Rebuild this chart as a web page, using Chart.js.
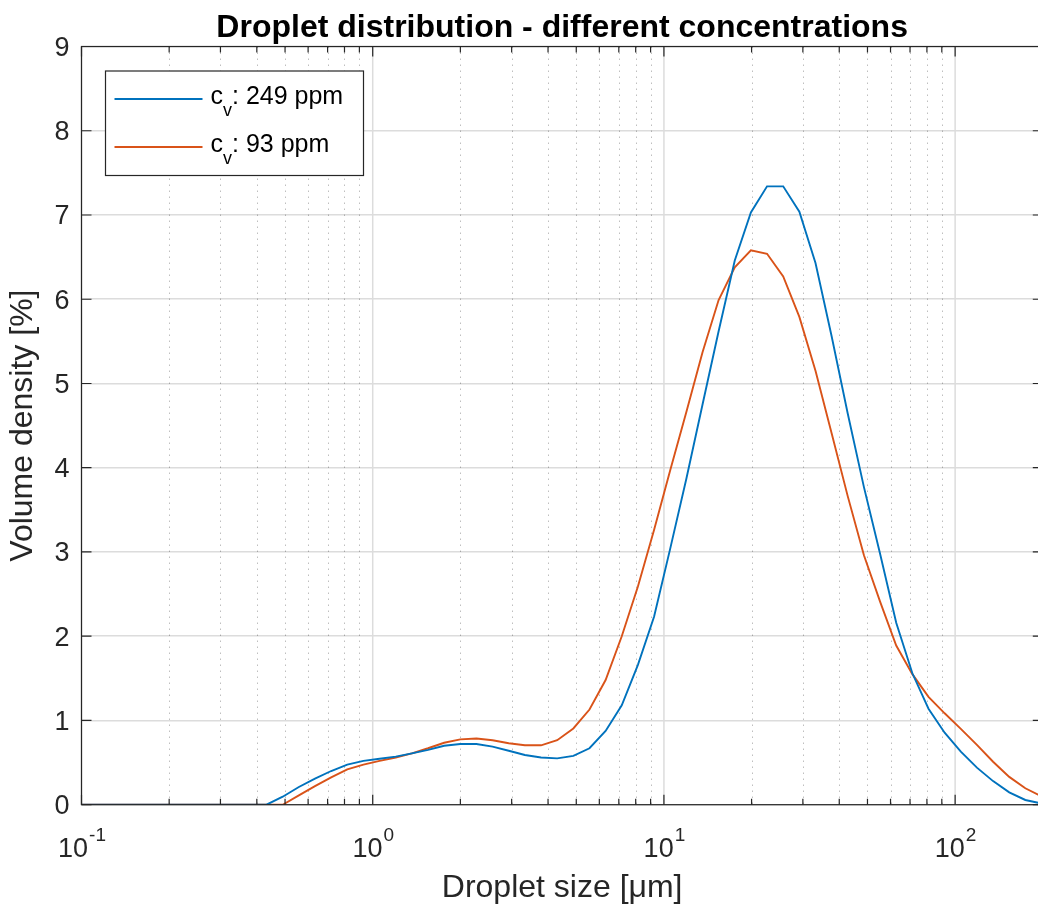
<!DOCTYPE html>
<html>
<head>
<meta charset="utf-8">
<script src="https://cdn.jsdelivr.net/npm/chart.js@4.4.0/dist/chart.umd.min.js"></script>
<style>
  html, body { margin: 0; padding: 0; overflow: hidden; background: #fff; }
  canvas { display: block; }
</style>
</head>
<body>
<canvas id="myChart" width="1048" height="907"></canvas>
<script>
// droplet size classes (um)
const sizes = [
  0.0934, 0.1061, 0.1205, 0.1369, 0.1555, 0.1767, 0.2008, 0.2282, 0.2593, 0.2945,
  0.3346, 0.3802, 0.4319, 0.4909, 0.5577, 0.6335, 0.7199, 0.818, 0.9293, 1.056,
  1.2, 1.363, 1.549, 1.759, 1.999, 2.271, 2.58, 2.932, 3.331, 3.785,
  4.3, 4.886, 5.551, 6.306, 7.165, 8.141, 9.249, 10.51, 11.94, 13.57,
  15.41, 17.51, 19.89, 22.6, 25.68, 29.18, 33.15, 37.66, 42.79, 48.62,
  55.24, 62.76, 71.3, 81.01, 92.04, 104.6, 118.8, 135, 153.4, 174.2,
  198, 224.9
];

// volume density [%]
const cv249 = [
  0, 0, 0, 0, 0, 0, 0, 0, 0, 0,
  0, 0, 0, 0.095, 0.21, 0.31, 0.40, 0.475, 0.52, 0.546,
  0.57, 0.61, 0.65, 0.70, 0.72, 0.72, 0.69, 0.64, 0.59, 0.56,
  0.55, 0.58, 0.67, 0.875, 1.18, 1.66, 2.23, 3.04, 3.87, 4.75,
  5.62, 6.46, 7.03, 7.34, 7.34, 7.04, 6.43, 5.56, 4.64, 3.77,
  2.98, 2.16, 1.56, 1.14, 0.855, 0.63, 0.44, 0.28, 0.147, 0.056,
  0.015, 0
];

const cv93 = [
  0, 0, 0, 0, 0, 0, 0, 0, 0, 0,
  0, 0, 0, 0, 0.11, 0.22, 0.325, 0.42, 0.475, 0.52,
  0.56, 0.61, 0.67, 0.735, 0.775, 0.785, 0.765, 0.73, 0.705, 0.705,
  0.765, 0.905, 1.13, 1.48, 2.0, 2.59, 3.26, 3.97, 4.66, 5.37,
  5.99, 6.38, 6.58, 6.54, 6.27, 5.79, 5.15, 4.41, 3.66, 2.96,
  2.41, 1.89, 1.55, 1.28, 1.085, 0.90, 0.71, 0.51, 0.33, 0.195,
  0.10, 0.04
];

const seriesNames = ['249 ppm', '93 ppm'];
const seriesColors = ['#0072BD', '#D95319'];
const xTickValues = [0.1, 1, 10, 100];
const xTickExps = ['-1', '0', '1', '2'];

const FONT = "'Liberation Sans', Arial, Helvetica, sans-serif";
const AXIS_COLOR = '#262626';

const toPoints = (vals) => sizes.map((s, i) => ({ x: s, y: vals[i] }));

// matlab look: dotted minor grid, inner ticks, box, title, legend
const matlabLook = {
  id: 'matlabLook',
  beforeDatasetsDraw(chart) {
    const { ctx, chartArea: ca, scales: { x } } = chart;
    ctx.save();
    for (let e = -1; e <= 2; e++) {
      for (let m = 2; m <= 9; m++) {
        const v = m * Math.pow(10, e);
        if (v >= x.max) continue;
        const px = Math.round(x.getPixelForValue(v)) + 0.5;
        ctx.beginPath();
        ctx.setLineDash([1.5, 4.5]);
        ctx.strokeStyle = 'rgba(0,0,0,0.25)';
        ctx.lineWidth = 1;
        ctx.moveTo(px, ca.top);
        ctx.lineTo(px, ca.bottom);
        ctx.stroke();
      }
      const vm = Math.pow(10, e);
      const pm = x.getPixelForValue(vm);
      ctx.beginPath();
      ctx.setLineDash([]);
      ctx.strokeStyle = '#dcdcdc';
      ctx.lineWidth = 1.5;
      ctx.moveTo(pm, ca.top);
      ctx.lineTo(pm, ca.bottom);
      ctx.stroke();
    }
    ctx.restore();
  },
  afterDatasetsDraw(chart) {
    const { ctx, chartArea: ca, scales: { x, y } } = chart;
    ctx.save();
    ctx.setLineDash([]);
    ctx.strokeStyle = AXIS_COLOR;
    ctx.lineWidth = 1.2;
    ctx.strokeRect(ca.left, ca.top, ca.right - ca.left, ca.bottom - ca.top);

    // x ticks (inside, bottom and top)
    ctx.beginPath();
    for (let e = -1; e <= 2; e++) {
      for (let m = 1; m <= 9; m++) {
        const v = m * Math.pow(10, e);
        if (v > x.max) continue;
        const px = x.getPixelForValue(v);
        const len = m === 1 ? 10 : 6;
        ctx.moveTo(px, ca.bottom);
        ctx.lineTo(px, ca.bottom - len);
        ctx.moveTo(px, ca.top);
        ctx.lineTo(px, ca.top + len);
      }
    }
    // y ticks (inside, left and right)
    for (let v = y.min; v <= y.max; v++) {
      const py = y.getPixelForValue(v);
      ctx.moveTo(ca.left, py);
      ctx.lineTo(ca.left + 10, py);
      ctx.moveTo(ca.right, py);
      ctx.lineTo(ca.right - 10, py);
    }
    ctx.stroke();

    // x tick labels 10^n
    ctx.fillStyle = AXIS_COLOR;
    ctx.textAlign = 'left';
    ctx.textBaseline = 'alphabetic';
    xTickValues.forEach((v, i) => {
      const px = x.getPixelForValue(v);
      ctx.font = `27px ${FONT}`;
      const w1 = ctx.measureText('10').width;
      ctx.font = `19px ${FONT}`;
      const w2 = ctx.measureText(xTickExps[i]).width;
      const x0 = px - (w1 + w2) / 2;
      ctx.font = `27px ${FONT}`;
      ctx.fillText('10', x0, ca.bottom + 52);
      ctx.font = `19px ${FONT}`;
      ctx.fillText(xTickExps[i], x0 + w1 + 1, ca.bottom + 36.5);
    });

    // title
    ctx.fillStyle = '#000';
    ctx.textAlign = 'center';
    ctx.font = `bold 32px ${FONT}`;
    ctx.fillText('Droplet distribution - different concentrations', (ca.left + ca.right) / 2, 37);

    // legend
    const lx = ca.left + 24, ly = ca.top + 24.5, lw = 258, lh = 104.5;
    ctx.fillStyle = '#fff';
    ctx.fillRect(lx, ly, lw, lh);
    ctx.strokeStyle = AXIS_COLOR;
    ctx.lineWidth = 1.2;
    ctx.strokeRect(lx, ly, lw, lh);
    seriesNames.forEach((name, i) => {
      const yy = ly + 28 + i * 48;
      ctx.beginPath();
      ctx.strokeStyle = seriesColors[i];
      ctx.lineWidth = 1.8;
      ctx.moveTo(lx + 9, yy);
      ctx.lineTo(lx + 97, yy);
      ctx.stroke();
      ctx.fillStyle = '#000';
      ctx.textAlign = 'left';
      let tx = lx + 105;
      ctx.font = `25px ${FONT}`;
      ctx.fillText('c', tx, yy + 5);
      tx += ctx.measureText('c').width;
      ctx.font = `18px ${FONT}`;
      ctx.fillText('v', tx, yy + 17);
      tx += ctx.measureText('v').width;
      ctx.font = `25px ${FONT}`;
      ctx.fillText(': ' + name, tx, yy + 5);
    });
    ctx.restore();
  }
};

const config = {
  type: 'line',
  data: {
    datasets: [
      {
        label: 'cv: ' + seriesNames[0],
        data: toPoints(cv249),
        borderColor: seriesColors[0],
        borderWidth: 1.9,
        pointRadius: 0,
        tension: 0,
        fill: false
      },
      {
        label: 'cv: ' + seriesNames[1],
        data: toPoints(cv93),
        borderColor: seriesColors[1],
        borderWidth: 1.9,
        pointRadius: 0,
        tension: 0,
        fill: false
      }
    ]
  },
  options: {
    responsive: false,
    animation: false,
    layout: { padding: { top: 46.5, right: 5.2, left: 0, bottom: 0 } },
    plugins: {
      legend: { display: false },
      tooltip: { enabled: false },
      title: { display: false }
    },
    scales: {
      x: {
        type: 'logarithmic',
        min: 0.1,
        max: 200,
        grid: { display: false },
        border: { display: false },
        ticks: { display: false },
        title: {
          display: true,
          text: 'Droplet size [μm]',
          color: AXIS_COLOR,
          font: { family: FONT, size: 32 },
          padding: { top: 0, bottom: 0 }
        },
        afterFit: (s) => { s.height = 102.3; }
      },
      y: {
        min: 0,
        max: 9,
        ticks: {
          stepSize: 1,
          padding: 12,
          labelOffset: 2,
          color: AXIS_COLOR,
          font: { family: FONT, size: 27 }
        },
        grid: { color: '#dcdcdc', lineWidth: 1.5, drawTicks: false },
        border: { display: false },
        title: {
          display: true,
          text: 'Volume density [%]',
          color: AXIS_COLOR,
          font: { family: FONT, size: 32 },
          padding: { top: 4, bottom: 0 }
        },
        afterFit: (s) => { s.width = 81.5; }
      }
    }
  },
  plugins: [matlabLook]
};

const myChart = new Chart(document.getElementById('myChart'), config);
</script>
</body>
</html>
